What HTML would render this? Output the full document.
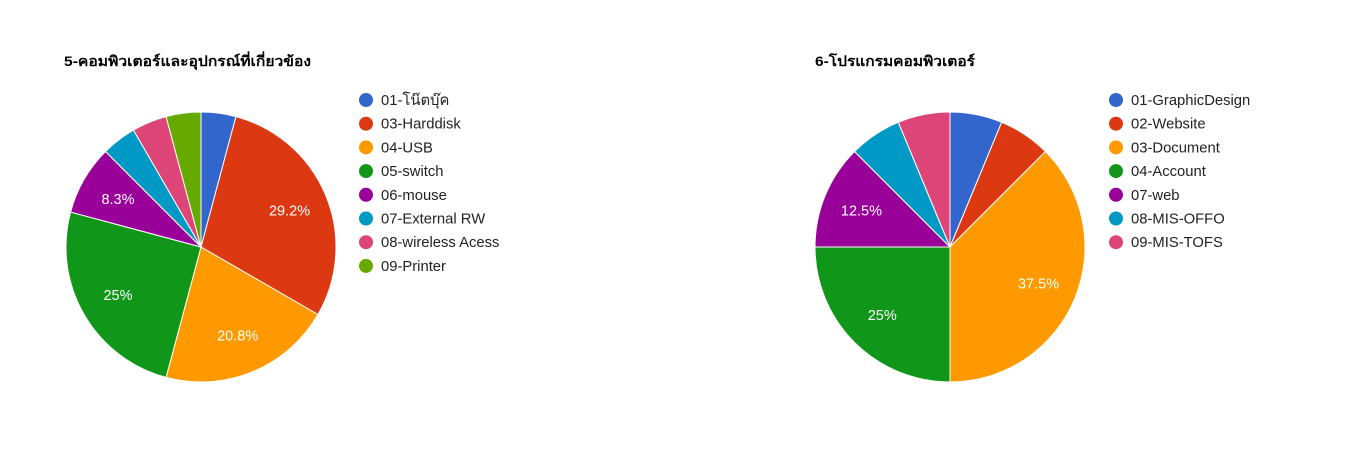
<!DOCTYPE html>
<html><head><meta charset="utf-8">
<style>
body{margin:0;background:#fff;width:1355px;height:457px;overflow:hidden}
svg{display:block}
text{font-family:"Liberation Sans","Noto Sans CJK SC",sans-serif}
</style></head><body>
<svg id="c" width="1355" height="457"></svg>
<script>
const colors=["#3366cc","#dc3912","#ff9900","#109618","#990099","#0099c6","#dd4477","#66aa00"];
const title1="5-คอมพิวเตอร์และอุปกรณ์ที่เกี่ยวข้อง";
const cats1=["01-โน๊ตบุ๊ค","03-Harddisk","04-USB","05-switch","06-mouse","07-External RW","08-wireless Acess","09-Printer"];
const vals1=[1,7,5,6,2,1,1,1];
const title2="6-โปรแกรมคอมพิวเตอร์";
const cats2=["01-GraphicDesign","02-Website","03-Document","04-Account","07-web","08-MIS-OFFO","09-MIS-TOFS"];
const vals2=[1,1,6,4,2,1,1];
const svg=document.getElementById('c');
const NS="http://www.w3.org/2000/svg";
function mk(t,a,p){const e=document.createElementNS(NS,t);for(const k in a)e.setAttribute(k,a[k]);(p||svg).appendChild(e);return e;}
function pie(id,title,cats,vals,cx,cy,r,tx,tw,lx){
  const g=mk('g',{});
  
  
  const t=mk('text',{x:tx,y:66,'font-size':14,'font-weight':'bold',fill:'#000',textLength:tw,lengthAdjust:'spacingAndGlyphs'},g);
  t.textContent=title;
  
  
  const tot=vals.reduce((a,b)=>a+b,0);
  let a0=0;
  vals.forEach((v,i)=>{
    const a1=a0+v/tot*2*Math.PI;
    const p=(a)=>[cx+r*Math.sin(a),cy-r*Math.cos(a)];
    const [x0,y0]=p(a0),[x1,y1]=p(a1);
    const path=mk('path',{d:`M${cx},${cy}L${x0},${y0}A${r},${r} 0 ${a1-a0>Math.PI?1:0} 1 ${x1},${y1}Z`,fill:colors[i],stroke:'#fff','stroke-width':1},g);
    
    
    const pct=v/tot*100;
    if(pct>8){
      const m=(a0+a1)/2,lr=r*0.71;
      const lt=mk('text',{x:cx+lr*Math.sin(m),y:cy-lr*Math.cos(m)+5,'font-size':14.5,fill:'#fff','text-anchor':'middle'},g);
      lt.textContent=(Math.round(pct*10)/10)+'%';
      
      
    }
    a0=a1;
    const ly=100+i*23.7;
    const c=mk('circle',{cx:lx,cy:ly,r:7,fill:colors[i]},g);
    
    
    const tt=mk('text',{x:lx+15,y:ly+5,'font-size':14.8,fill:'#222'},g);
    tt.textContent=cats[i];
    
    
  });
}
pie('chart-equipment',title1,cats1,vals1,201,247,135,64,247,366);
pie('chart-software',title2,cats2,vals2,950,247,135,815,160,1116);
</script>
</body></html>
